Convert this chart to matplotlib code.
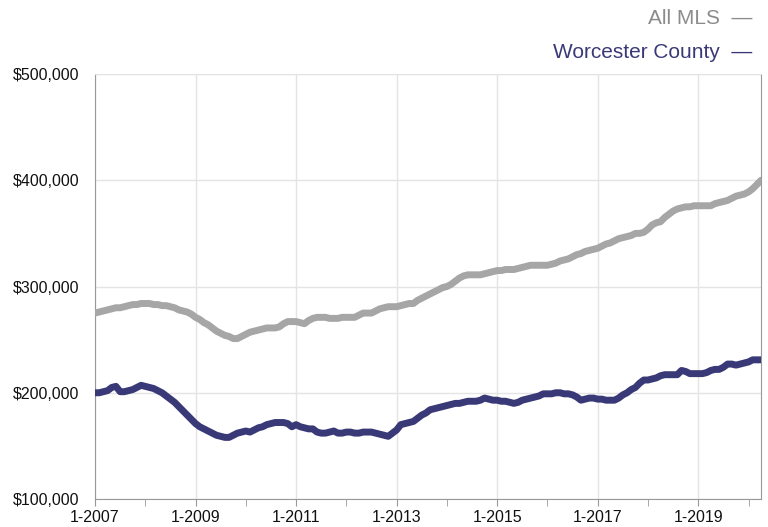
import matplotlib.pyplot as plt
from matplotlib.ticker import FuncFormatter

plt.rcParams['font.family'] = ['Liberation Sans', 'DejaVu Sans']

# monthly median price (thousands), Jan 2007 .. Apr 2020
all_mls = [
    275, 276, 277, 278, 279, 280, 280, 281, 282, 283, 283, 284,  # 2007
    284, 284, 283, 283, 282, 282, 281, 280, 278, 277, 276, 274,  # 2008
    271, 269, 266, 264, 261, 258, 256, 254, 253, 251, 251, 253,  # 2009
    255, 257, 258, 259, 260, 261, 261, 261, 262, 265, 267, 267,  # 2010
    267, 266, 265, 268, 270, 271, 271, 271, 270, 270, 270, 271,  # 2011
    271, 271, 271, 273, 275, 275, 275, 277, 279, 280, 281, 281,  # 2012
    281, 282, 283, 284, 284, 287, 289, 291, 293, 295, 297, 299,  # 2013
    300, 302, 305, 308, 310, 311, 311, 311, 311, 312, 313, 314,  # 2014
    315, 315, 316, 316, 316, 317, 318, 319, 320, 320, 320, 320,  # 2015
    320, 321, 322, 324, 325, 326, 328, 330, 331, 333, 334, 335,  # 2016
    336, 338, 340, 341, 343, 345, 346, 347, 348, 350, 350, 351,  # 2017
    354, 358, 360, 361, 365, 368, 371, 373, 374, 375, 375, 376,  # 2018
    376, 376, 376, 376, 378, 379, 380, 381, 383, 385, 386, 387,  # 2019
    389, 392, 396, 400,                                          # 2020
]
worcester = [
    200, 200, 201, 202, 205, 206, 201, 201, 202, 203, 205, 207,  # 2007
    206, 205, 204, 202, 200, 197, 194, 191, 187, 183, 179, 175,  # 2008
    171, 168, 166, 164, 162, 160, 159, 158, 158, 160, 162, 163,  # 2009
    164, 163, 165, 167, 168, 170, 171, 172, 172, 172, 171, 168,  # 2010
    170, 168, 167, 166, 166, 163, 162, 162, 163, 164, 162, 162,  # 2011
    163, 163, 162, 162, 163, 163, 163, 162, 161, 160, 159, 162,  # 2012
    165, 170, 171, 172, 173, 176, 179, 181, 184, 185, 186, 187,  # 2013
    188, 189, 190, 190, 191, 192, 192, 192, 193, 195, 194, 193,  # 2014
    193, 192, 192, 191, 190, 191, 193, 194, 195, 196, 197, 199,  # 2015
    199, 199, 200, 200, 199, 199, 198, 196, 193, 194, 195, 195,  # 2016
    194, 194, 193, 193, 193, 195, 198, 200, 203, 205, 209, 212,  # 2017
    212, 213, 214, 216, 217, 217, 217, 217, 221, 220, 218, 218,  # 2018
    218, 218, 219, 221, 222, 222, 224, 227, 227, 226, 227, 228,  # 2019
    229, 231, 231, 231,                                          # 2020
]
tick_labels = ['1-2007', '1-2009', '1-2011', '1-2013', '1-2015', '1-2017', '1-2019']

GRAY = '#a6a6a6'
NAVY = '#393977'

months = list(range(len(all_mls)))

fig = plt.figure(figsize=(7.68, 5.27), dpi=100)
ax = fig.add_axes([0.1237, 0.0531, 0.8673, 0.8065])

ax.plot(months, all_mls, color=GRAY, lw=5, solid_capstyle='round', solid_joinstyle='round', zorder=3)
ax.plot(months, worcester, color=NAVY, lw=5, solid_capstyle='round', solid_joinstyle='round', zorder=4)

ax.set_xlim(0, len(all_mls) - 1)
ax.set_ylim(100, 500)
ax.set_yticks([100, 200, 300, 400, 500])
ax.yaxis.set_major_formatter(FuncFormatter(lambda v, p: f'${int(v * 1000):,}'))
ax.set_xticks([i * 24 for i in range(len(tick_labels))])
ax.set_xticklabels(tick_labels)
ax.set_xticks([12 + i * 24 for i in range(7)], minor=True)

ax.grid(True, which='major', color='#e4e4e4', lw=1, zorder=0)
ax.tick_params(axis='x', which='both', length=5, color='#999999', labelsize=11.5, pad=3, labelcolor='#111111')
ax.tick_params(axis='y', length=0, labelsize=11.5, pad=11, labelcolor='#111111')
for side in ['left', 'bottom', 'right']:
    ax.spines[side].set_color('#999999')
ax.spines['top'].set_color('#e4e4e4')

# legend as text in top right corner
fig.text(752 / 768, 1 - 18 / 527, 'All MLS  \u2014', color='#8c8c8c', fontsize=15, ha='right', va='center')
fig.text(752 / 768, 1 - 52 / 527, 'Worcester County  \u2014', color=NAVY, fontsize=15, ha='right', va='center')

fig.savefig('out.png', dpi=100)
